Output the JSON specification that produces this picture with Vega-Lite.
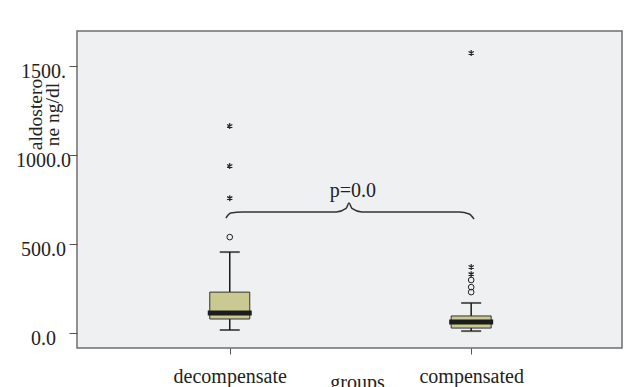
{
  "$schema": "https://vega.github.io/schema/vega-lite/v6.json",
  "autosize": "none",
  "width": 545,
  "height": 317,
  "padding": {"left": 77, "top": 31, "right": 12, "bottom": 39},
  "background": "white",
  "config": {
    "view": {"fill": "#EFF0F2", "stroke": "#6E6E6E", "strokeWidth": 1.5},
    "font": "Liberation Serif",
    "style": {"guide-title": {"font": "Liberation Serif", "fontWeight": "normal"}, "guide-label": {"font": "Liberation Serif"}},
    "axis": {"grid": false, "domain": false, "labelFont": "Liberation Serif", "titleFont": "Liberation Serif", "labelColor": "#222", "titleColor": "#222", "tickColor": "#555", "labelFontSize": 20, "titleFontSize": 20, "titleFontWeight": "normal"}
  },
  "datasets": {
    "boxes": [
      {"group": 1, "name": "decompensate", "lower": 17, "q1": 79, "median": 112, "q3": 230, "upper": 455},
      {"group": 2, "name": "compensated", "lower": 11, "q1": 28, "median": 62, "q3": 96, "upper": 169}
    ],
    "outliers": [
      {"group": 1, "value": 539, "kind": "circle"},
      {"group": 1, "value": 758, "kind": "star"},
      {"group": 1, "value": 938, "kind": "star"},
      {"group": 1, "value": 1163, "kind": "star"},
      {"group": 2, "value": 230, "kind": "circle"},
      {"group": 2, "value": 258, "kind": "circle"},
      {"group": 2, "value": 298, "kind": "circle"},
      {"group": 2, "value": 331, "kind": "star"},
      {"group": 2, "value": 371, "kind": "star"},
      {"group": 2, "value": 1573, "kind": "star"}
    ],
    "brace": [
      {"x": 0.984, "y": 646},
      {"x": 1.004, "y": 674},
      {"x": 1.053, "y": 680},
      {"x": 1.441, "y": 680},
      {"x": 1.482, "y": 700},
      {"x": 1.494, "y": 730},
      {"x": 1.506, "y": 700},
      {"x": 1.547, "y": 680},
      {"x": 1.951, "y": 680},
      {"x": 1.992, "y": 669},
      {"x": 2.012, "y": 640}
    ],
    "label": [{"x": 1.51, "y": 764, "text": "p=0.0"}]
  },
  "layer": [
    {
      "data": {"name": "boxes"},
      "mark": {"type": "rule", "color": "#1a1a1a", "strokeWidth": 1.5},
      "encoding": {
        "x": {"field": "group", "type": "quantitative",
              "scale": {"domain": [0.388, 2.604], "nice": false, "zero": false},
              "axis": {"values": [1, 2], "labelExpr": "datum.value == 1 ? 'decompensate' : 'compensated'", "tickSize": 6, "labelPadding": 12, "labelBaseline": "top", "labelFont": "Liberation Serif", "titleFont": "Liberation Serif", "title": "groups", "titleX": 280, "titleY": 40, "titleBaseline": "alphabetic", "titleAnchor": null}},
        "y": {"field": "lower", "type": "quantitative",
              "scale": {"domain": [-84, 1697], "nice": false, "zero": false},
              "axis": {"values": [0, 500, 1000, 1500], "labelExpr": "datum.value == 1500 ? '1500.' : format(datum.value, '.1f')", "tickSize": 8, "labelAlign": "center", "labelPadding": 26, "labelBaseline": "middle", "labelOffset": 5, "labelFont": "Liberation Serif", "titleFont": "Liberation Serif", "titleFontSize": 19.5, "titleFontWeight": "normal",
                       "title": ["aldostero", "ne ng/dl"], "titleAngle": -90, "titleX": -36, "titleY": 83, "titleAlign": "center", "titleBaseline": "alphabetic", "titleLineHeight": 17, "titleAnchor": null}},
        "y2": {"field": "upper"}
      }
    },
    {
      "data": {"name": "boxes"},
      "mark": {"type": "tick", "orient": "horizontal", "color": "#1a1a1a", "size": 20, "thickness": 2},
      "encoding": {"x": {"field": "group", "type": "quantitative"}, "y": {"field": "lower", "type": "quantitative"}}
    },
    {
      "data": {"name": "boxes"},
      "mark": {"type": "tick", "orient": "horizontal", "color": "#1a1a1a", "size": 20, "thickness": 2},
      "encoding": {"x": {"field": "group", "type": "quantitative"}, "y": {"field": "upper", "type": "quantitative"}}
    },
    {
      "data": {"name": "boxes"},
      "mark": {"type": "bar", "width": 40, "fill": "#C9C991", "stroke": "#333", "strokeWidth": 1},
      "encoding": {"x": {"field": "group", "type": "quantitative"}, "y": {"field": "q1", "type": "quantitative"}, "y2": {"field": "q3"}}
    },
    {
      "data": {"name": "boxes"},
      "mark": {"type": "tick", "orient": "horizontal", "color": "#1c1c1c", "size": 44, "thickness": 5, "opacity": 1},
      "encoding": {"x": {"field": "group", "type": "quantitative"}, "y": {"field": "median", "type": "quantitative"}}
    },
    {
      "data": {"name": "outliers"},
      "transform": [{"filter": "datum.kind == 'circle'"}],
      "mark": {"type": "point", "shape": "circle", "filled": false, "size": 32, "stroke": "#222", "strokeWidth": 1, "opacity": 1},
      "encoding": {"x": {"field": "group", "type": "quantitative"}, "y": {"field": "value", "type": "quantitative"}}
    },
    {
      "data": {"name": "outliers"},
      "transform": [{"filter": "datum.kind == 'star'"}],
      "mark": {"type": "point", "shape": "M0,-1L0,1M-0.87,-0.5L0.87,0.5M-0.87,0.5L0.87,-0.5", "filled": false, "size": 36, "stroke": "#222", "strokeWidth": 1.2, "opacity": 1},
      "encoding": {"x": {"field": "group", "type": "quantitative"}, "y": {"field": "value", "type": "quantitative"}}
    },
    {
      "data": {"name": "brace"},
      "mark": {"type": "line", "interpolate": "monotone", "color": "#333", "strokeWidth": 1.5},
      "encoding": {"x": {"field": "x", "type": "quantitative"}, "y": {"field": "y", "type": "quantitative"}}
    },
    {
      "data": {"name": "label"},
      "mark": {"type": "text", "font": "Liberation Serif", "fontSize": 20, "color": "#222", "align": "center", "baseline": "alphabetic"},
      "encoding": {"x": {"field": "x", "type": "quantitative"}, "y": {"field": "y", "type": "quantitative"}, "text": {"field": "text"}}
    }
  ]
}
